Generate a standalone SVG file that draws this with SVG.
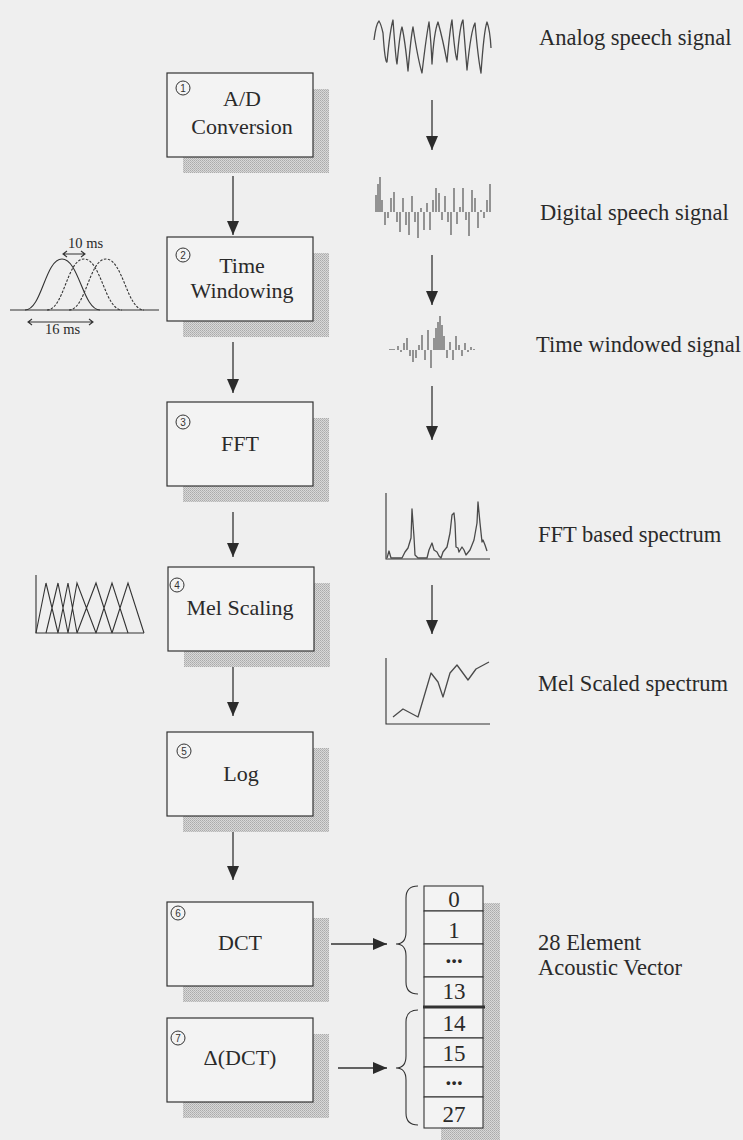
<svg xmlns="http://www.w3.org/2000/svg" width="743" height="1140" viewBox="0 0 743 1140">
<defs>
<pattern id="dither" width="2" height="2" patternUnits="userSpaceOnUse">
<rect width="2" height="2" fill="#d8d8d8"/>
<rect width="1" height="1" fill="#ababab"/>
<rect x="1" y="1" width="1" height="1" fill="#b8b8b8"/>
</pattern>
<marker id="ah" markerUnits="userSpaceOnUse" markerWidth="14" markerHeight="14" viewBox="0 0 14 12" refX="14" refY="6" orient="auto">
<path d="M0,0 L14,6 L0,12 Z" fill="#2b2b2b"/>
</marker>
</defs>
<style>
.bg{fill:#efefef}
.shadow{fill:url(#dither)}
.box{fill:#f3f3f3;stroke:#333;stroke-width:1.2}
.boxt{font-family:"Liberation Serif","Times New Roman",serif;font-size:22px;fill:#2a2a2a;text-anchor:middle}
.side{font-family:"Liberation Serif","Times New Roman",serif;font-size:22.5px;fill:#2a2a2a}
.small{font-family:"Liberation Serif","Times New Roman",serif;font-size:14.5px;fill:#2a2a2a}
.num{font-family:"Liberation Sans",Arial,sans-serif;font-size:10px;fill:#333;text-anchor:middle}
.circ{fill:none;stroke:#333;stroke-width:1}
.conn{stroke:#333;stroke-width:1.3;fill:none;marker-end:url(#ah)}
.thin{stroke:#333;stroke-width:1.1;fill:none}
.cell{fill:#f3f3f3;stroke:#333;stroke-width:1.1}
.cellt{font-family:"Liberation Serif","Times New Roman",serif;font-size:23px;fill:#2a2a2a;text-anchor:middle}
.sig{stroke:#4a4a4a;stroke-width:1.3;fill:none;stroke-linejoin:round}
.bars{stroke:#555;stroke-width:1.2;fill:none}
</style>
<rect class="bg" x="0" y="0" width="743" height="1140"/>

<g id="node1">
<rect class="shadow" x="183" y="89" width="146" height="84"/>
<rect class="box" x="167" y="73" width="146" height="84"/>
<circle class="circ" cx="183" cy="88" r="7"/><text class="num" x="183" y="91.5">1</text>
<text class="boxt" x="242" y="106">A/D</text>
<text class="boxt" x="242" y="134">Conversion</text>
</g>
<g id="node2">
<rect class="shadow" x="183" y="253" width="146" height="84"/>
<rect class="box" x="167" y="237" width="146" height="84"/>
<circle class="circ" cx="183" cy="255" r="7"/><text class="num" x="183" y="258.5">2</text>
<text class="boxt" x="242" y="273">Time</text>
<text class="boxt" x="242" y="298">Windowing</text>
</g>
<g id="node3">
<rect class="shadow" x="183" y="418" width="146" height="84"/>
<rect class="box" x="167" y="402" width="146" height="84"/>
<circle class="circ" cx="183" cy="422" r="7"/><text class="num" x="183" y="425.5">3</text>
<text class="boxt" x="240" y="451">FFT</text>
</g>
<g id="node4">
<rect class="shadow" x="184" y="583" width="146" height="84"/>
<rect class="box" x="168" y="567" width="146" height="84"/>
<circle class="circ" cx="177" cy="585" r="7"/><text class="num" x="177" y="588.5">4</text>
<text class="boxt" x="240" y="615">Mel Scaling</text>
</g>
<g id="node5">
<rect class="shadow" x="183" y="748" width="146" height="84"/>
<rect class="box" x="167" y="732" width="146" height="84"/>
<circle class="circ" cx="184" cy="751" r="7"/><text class="num" x="184" y="754.5">5</text>
<text class="boxt" x="241" y="781">Log</text>
</g>
<g id="node6">
<rect class="shadow" x="183" y="918" width="146" height="84"/>
<rect class="box" x="167" y="902" width="146" height="84"/>
<circle class="circ" cx="178" cy="913" r="7"/><text class="num" x="178" y="916.5">6</text>
<text class="boxt" x="240" y="950">DCT</text>
</g>
<g id="node7">
<rect class="shadow" x="183" y="1034" width="146" height="84"/>
<rect class="box" x="167" y="1018" width="146" height="84"/>
<circle class="circ" cx="178" cy="1038" r="7"/><text class="num" x="178" y="1041.5">7</text>
<text class="boxt" x="240" y="1065">Δ(DCT)</text>
</g>

<g id="vector">
<rect class="shadow" x="441" y="903" width="59" height="245"/>
<rect class="cell" x="424" y="886" width="59" height="25"/>
<rect class="cell" x="424" y="911" width="59" height="33"/>
<rect class="cell" x="424" y="944" width="59" height="33"/>
<rect class="cell" x="424" y="977" width="59" height="30"/>
<rect class="cell" x="424" y="1007" width="59" height="31"/>
<rect class="cell" x="424" y="1038" width="59" height="29"/>
<rect class="cell" x="424" y="1067" width="59" height="30"/>
<rect class="cell" x="424" y="1097" width="59" height="31"/>
<line x1="423" y1="1007" x2="485" y2="1007" stroke="#333" stroke-width="3"/>
<text class="cellt" x="454" y="907">0</text>
<text class="cellt" x="454" y="938">1</text>
<text class="cellt" x="454" y="963" font-weight="bold" font-size="20">...</text>
<text class="cellt" x="454" y="999">13</text>
<text class="cellt" x="454" y="1031">14</text>
<text class="cellt" x="454" y="1061">15</text>
<text class="cellt" x="454" y="1085" font-weight="bold" font-size="20">...</text>
<text class="cellt" x="454" y="1122">27</text>
<path class="thin" d="M418,886 Q406,886 406,898 L406,932 Q406,944 396,944 Q406,944 406,956 L406,982 Q406,994 418,994"/>
<path class="thin" d="M418,1010 Q406,1010 406,1022 L406,1056 Q406,1068 396,1068 Q406,1068 406,1080 L406,1113 Q406,1125 418,1125"/>
</g>

<g id="connectors">
<line class="conn" x1="233" y1="176" x2="233" y2="235"/>
<line class="conn" x1="233" y1="342" x2="233" y2="393"/>
<line class="conn" x1="233" y1="512" x2="233" y2="557"/>
<line class="conn" x1="233" y1="667" x2="233" y2="716"/>
<line class="conn" x1="233" y1="832" x2="233" y2="880"/>
<line class="conn" x1="331" y1="944" x2="387" y2="944"/>
<line class="conn" x1="338" y1="1068" x2="387" y2="1068"/>
<line class="conn" x1="432" y1="100" x2="432" y2="150"/>
<line class="conn" x1="432" y1="255" x2="432" y2="305"/>
<line class="conn" x1="432" y1="386" x2="432" y2="440"/>
<line class="conn" x1="432" y1="585" x2="432" y2="634"/>
</g>

<g id="signals">
<path class="sig" d="M374,40 Q376,24 379,21 Q381,24 383,33 Q385,63 387,62 Q390,30 393,20 Q396,62 397,64 Q400,32 402,27 Q405,40 408,71 Q411,36 413,27 Q418,60 422,73 Q426,38 429,22 Q431,40 432,64 Q434,32 438,22 Q443,40 447,62 Q450,28 452,20 Q455,56 457,60 Q460,24 463,20 Q465,46 467,70 Q471,30 475,23 Q478,58 481,73 Q484,30 487,22 Q490,30 491,48"/>
<path class="bars" d="M376,212V195 M378,212V184 M380,212V177 M382,212V200 M385,212V225 M388,212V218 M391,212V198 M394,212V192 M397,212V222 M400,212V232 M403,212V198 M406,212V225 M409,212V235 M412,212V196 M415,212V222 M418,212V238 M421,212V208 M424,212V230 M427,212V203 M430,212V230 M433,212V200 M436,212V188 M439,212V193 M442,212V220 M445,212V196 M448,212V222 M451,212V235 M454,212V188 M457,212V224 M460,212V207 M463,212V188 M466,212V220 M469,212V236 M472,212V190 M475,212V198 M478,212V228 M481,212V210 M484,212V218 M487,212V200 M490,212V184"/>
<path class="bars" d="M390,350V349 M392,350V349 M394,350V349 M398,350V346 M401,350V352 M404,350V343 M407,350V338 M410,350V356 M413,350V362 M416,350V358 M419,350V345 M422,350V335 M425,350V360 M428,350V330 M431,350V368 M434,350V338 M436,350V328 M438,350V322 M440,350V316 M442,350V325 M444,350V336 M447,350V358 M450,350V342 M453,350V360 M456,350V336 M459,350V345 M462,350V356 M465,350V343 M468,350V352 M471,350V347 M474,350V349"/>
<path class="thin" d="M386,493 V559 H490"/>
<path class="sig" d="M387,558 L389,551 L391,558 L402,558 L405,552 L408,548 L411,538 L412,509 L414,537 L415,555 L417,557 L418,558 L427,558 L429,550 L432,543 L434,550 L437,552 L439,556 L441,558 L443,552 L447,547 L450,533 L452,515 L454,513 L455,523 L456,547 L458,548 L459,552 L462,547 L464,550 L466,555 L470,550 L474,540 L477,523 L478,502 L480,523 L482,542 L483,540 L485,545 L487,551"/>
<path class="thin" d="M386,658 V724 H490"/>
<path class="sig" d="M393,717 L403,709 L418,717 L431,673 L438,682 L443,697 L450,673 L457,665 L468,680 L476,669 L489,662"/>
</g>

<g id="windows">
<line class="thin" x1="10" y1="310" x2="159" y2="310"/>
<path class="thin" d="M25,310 C42,310 45,259 62,259 C79,259 83,310 100,310"/>
<path class="thin" stroke-dasharray="2.5,1.5" d="M47,310 C64,310 67,259 84,259 C101,259 105,310 122,310"/>
<path class="thin" stroke-dasharray="2.5,1.5" d="M69,310 C86,310 89,259 106,259 C123,259 127,310 144,310"/>
<path class="thin" d="M63,254 H85 M67,251 L63,254 L67,257 M81,251 L85,254 L81,257"/>
<text class="small" x="68" y="248">10 ms</text>
<path class="thin" d="M28,322 H93 M32,319 L28,322 L32,325 M89,319 L93,322 L89,325"/>
<text class="small" x="45" y="334">16 ms</text>
</g>

<g id="melbank">
<path class="thin" d="M36,575 V633 H144"/>
<path class="thin" d="M36,633 L46,583 L58,633 M46,633 L58,583 L68,633 M58,633 L68,583 L77,633 M68,633 L77,583 L96,633 M77,633 L96,583 L112,633 M96,633 L112,583 L128,633 M112,633 L128,583 L144,633"/>
</g>

<g id="labels">
<text class="side" x="539" y="45">Analog speech signal</text>
<text class="side" x="540" y="220">Digital speech signal</text>
<text class="side" x="536" y="352" textLength="205" lengthAdjust="spacingAndGlyphs">Time windowed signal</text>
<text class="side" x="538" y="542">FFT based spectrum</text>
<text class="side" x="538" y="691">Mel Scaled spectrum</text>
<text class="side" x="538" y="950">28 Element</text>
<text class="side" x="538" y="975">Acoustic Vector</text>
</g>
</svg>
